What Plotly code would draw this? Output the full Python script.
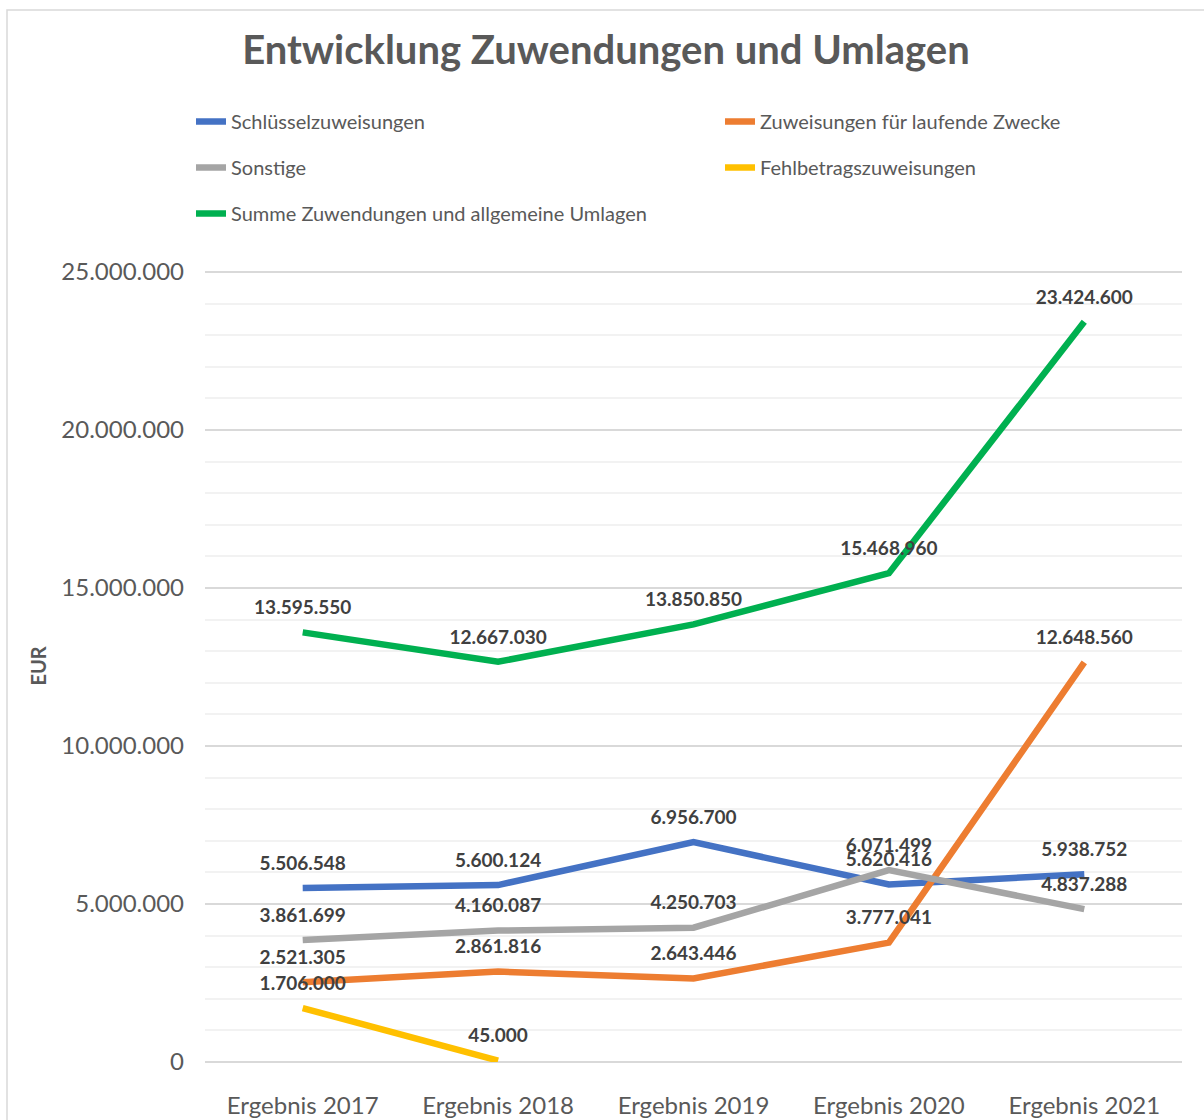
import plotly.graph_objects as go

categories = ["Ergebnis 2017", "Ergebnis 2018", "Ergebnis 2019", "Ergebnis 2020", "Ergebnis 2021"]
schluessel = [5506548, 5600124, 6956700, 5620416, 5938752]
laufende_zwecke = [2521305, 2861816, 2643446, 3777041, 12648560]
sonstige = [3861699, 4160087, 4250703, 6071499, 4837288]
fehlbetrag = [1706000, 45000, None, None, None]
summe = [13595550, 12667030, 13850850, 15468960, 23424600]
y_ticks = [0, 5000000, 10000000, 15000000, 20000000, 25000000]

series = [
    ("Schlüsselzuweisungen", schluessel, "#4472C4", "legend", "g1"),
    ("Zuweisungen für laufende Zwecke", laufende_zwecke, "#ED7D31", "legend2", "g2"),
    ("Sonstige", sonstige, "#A5A5A5", "legend", "g3"),
    ("Fehlbetragszuweisungen", fehlbetrag, "#FFC000", "legend2", "g4"),
    ("Summe Zuwendungen und allgemeine Umlagen", summe, "#00B050", "legend", "g5"),
]


def fmt(v):
    return "" if v is None else f"{v:,}".replace(",", ".")


W, H = 1204, 1120
L, R, T, B = 205, 22, 270, 58
pw, ph = W - L - R, H - T - B


def px_x(x):
    return (x - L) / pw


def px_y(y):
    return (H - B - y) / ph


fig = go.Figure()
for name, vals, color, leg, grp in series:
    fig.add_trace(go.Scatter(
        x=categories, y=vals, name=name, mode="lines+markers+text",
        line=dict(color=color, width=6.5),
        marker=dict(size=20, color="rgba(0,0,0,0)", line=dict(width=0)),
        text=[fmt(v) for v in vals], textposition="top center",
        textfont=dict(family="Lato", size=19, color="#404040", weight="bold"),
        legend=leg, legendgroup=grp, connectgaps=False,
        cliponaxis=False,
    ))

legend_common = dict(
    font=dict(family="Lato", size=20, color="#595959"),
    bgcolor="rgba(0,0,0,0)", borderwidth=0,
    tracegroupgap=17, xanchor="left", yanchor="top",
    orientation="v",
)

fig.update_layout(
    width=W, height=H,
    margin=dict(l=L, r=R, t=T, b=B, autoexpand=False),
    paper_bgcolor="white", plot_bgcolor="white",
    separators=",.",
    showlegend=True,
    title=dict(
        text="Entwicklung Zuwendungen und Umlagen",
        font=dict(family="Lato", size=40, color="#595959", weight="bold"),
        x=0.5 + 4 / W, xanchor="center", xref="container",
        y=1 - 50 / H, yanchor="middle", yref="container",
    ),
    legend=dict(x=px_x(191), y=px_y(102), **legend_common),
    legend2=dict(x=px_x(720), y=px_y(102), **legend_common),
    xaxis=dict(
        type="category", range=[-0.5, 4.5],
        showgrid=False, showline=False, zeroline=False, ticks="",
        tickfont=dict(family="Lato", size=24, color="#595959"),
        ticklabelstandoff=27, automargin=False,
    ),
    yaxis=dict(
        range=[0, 25065000], tickvals=y_ticks, tickformat=",d",
        showgrid=True, gridcolor="#D9D9D9", gridwidth=1.5,
        minor=dict(dtick=1000000, showgrid=True, gridcolor="#F2F2F2", gridwidth=1.5),
        zeroline=True, zerolinecolor="#D9D9D9", zerolinewidth=1.5,
        showline=False, ticks="",
        tickfont=dict(family="Lato", size=24, color="#595959"),
        ticklabelstandoff=20, automargin=False,
        title=dict(text="EUR", font=dict(family="Lato", size=20, color="#595959", weight="bold"), standoff=9),
    ),
    shapes=[dict(
        type="rect", xref="paper", yref="paper",
        x0=px_x(7), x1=px_x(1300), y0=px_y(1300), y1=px_y(10),
        line=dict(color="#D9D9D9", width=1.5), fillcolor="rgba(0,0,0,0)", layer="below",
    )],
)

fig.write_html("out.html", config={"displayModeBar": False},
               post_script="document.body.style.margin='0';")
